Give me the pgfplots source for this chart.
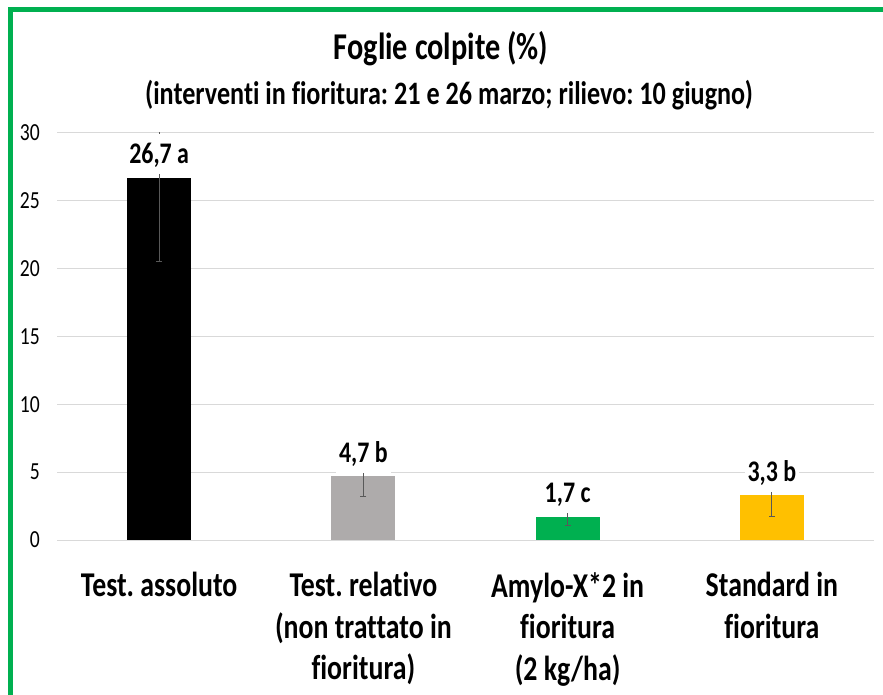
\documentclass[border=0pt]{standalone}
\usepackage{fontspec}
\setmainfont{Carlito}[FakeStretch=0.8, Ligatures=NoCommon]
\usepackage{pgfplots}
\pgfplotsset{compat=1.18}
\definecolor{xlgreen}{HTML}{00B050}
\definecolor{xlgray}{HTML}{AEABAB}
\definecolor{xlyellow}{HTML}{FFC000}
\definecolor{gridc}{HTML}{D9D9D9}
\definecolor{errc}{HTML}{595959}
\frenchspacing
\begin{document}
\frenchspacing
\begin{tikzpicture}[x=1bp,y=1bp]
\begin{axis}[
  at={(57bp,155bp)}, anchor=south west,
  scale only axis, width=817bp, height=407bp,
  xmin=-0.5, xmax=3.5, ymin=0, ymax=30,
  ytick={0,5,10,15,20,25,30},
  xtick={0,1,2,3},
  xticklabels={{Test. assoluto},{Test. relativo\\(non trattato in\\fioritura)},{Amylo-X*2 in\\fioritura\\(2 kg/ha)},{Standard in\\fioritura}},
  axis line style={draw=none},
  major tick length=0pt,
  ymajorgrids, grid style={gridc, line width=1bp},
  /pgf/number format/assume math mode=true,
  yticklabel style={font=\fontsize{24.6}{28}\selectfont, anchor=east, inner sep=0pt, xshift=-17bp},
  xticklabel style={font=\bfseries\frenchspacing\fontsize{34.9}{41.5}\selectfont, align=center, anchor=north, yshift=-29bp},
  ybar, bar width=64bp, bar shift=0pt,
  every node near coord/.append style={anchor=south, yshift=3.5bp, fill=white, inner xsep=3bp, inner ysep=5bp, text depth=5.5bp, text height=24.5bp, font=\bfseries\fontsize{30}{32}\selectfont, text=black},
  error bars/error bar style={errc, line width=1bp},
  error bars/error mark options={errc, line width=1bp, mark size=3bp, rotate=90},
]
\addplot[fill=black, draw=none, nodes near coords={26,7 a}, error bars/.cd, y dir=both, y explicit] coordinates {(0,26.7) +- (0,6.2)};
\addplot[fill=xlgray, draw=none, nodes near coords={4,7 b}, error bars/.cd, y dir=both, y explicit] coordinates {(1,4.7) +- (0,1.5)};
\addplot[fill=xlgreen, draw=none, nodes near coords={1,7 c}, error bars/.cd, y dir=both, y explicit] coordinates {(2,1.7) +- (0,0.6)};
\addplot[fill=xlyellow, draw=none, nodes near coords={3,3 b}, error bars/.cd, y dir=both, y explicit] coordinates {(3,3.3) +- (0,1.55)};
\end{axis}
\node[anchor=base, font=\bfseries\fontsize{38}{44}\selectfont] at (441bp,635bp) {Foglie colpite (\%)};
\node[anchor=base, font=\bfseries\fontsize{32.8}{36}\selectfont] at (449bp,590bp) {(interventi in fioritura: 21 e 26 marzo; rilievo: 10 giugno)};
\draw[xlgreen, line width=5bp] (10.5bp,0) -- (10.5bp,685.5bp) -- (890bp,685.5bp);
\pgfresetboundingbox
\path[use as bounding box] (0,0) rectangle (883bp,695bp);
\end{tikzpicture}
\end{document}
